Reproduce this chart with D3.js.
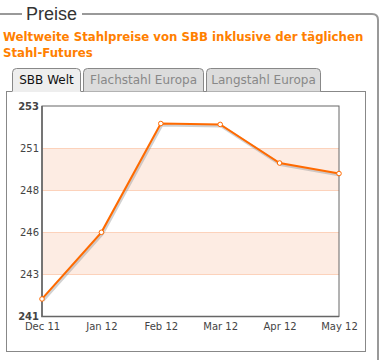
<!DOCTYPE html>
<html><head><meta charset="utf-8">
<script src="https://cdnjs.cloudflare.com/ajax/libs/d3/7.8.5/d3.min.js"></script>
<style>body{margin:0;background:#fff}svg{display:block}</style>
</head><body>
<script>
const months = ["Dec 11","Jan 12","Feb 12","Mar 12","Apr 12","May 12"];
const values = [242.0, 245.8, 252.0, 251.95, 249.75, 249.15];
const yTickValues = [241, 243.4, 245.8, 248.2, 250.6, 253];
const yBands = [[243.4, 245.8], [248.2, 250.6]];
const tabs = ["SBB Welt", "Flachstahl Europa", "Langstahl Europa"];
const titleLines = ["Weltweite Stahlpreise von SBB inklusive der täglichen", "Stahl-Futures"];
const legendText = "Preise";

const W = 388, H = 360;
const svg = d3.select("body").append("svg").attr("width", W).attr("height", H);

// fieldset border
const legendX0 = 22, legendX1 = 82, fy = 14, fr = 378;
svg.append("path")
  .attr("d", `M-2,${fy} L${legendX0},${fy} M${legendX1},${fy} L${fr-6},${fy} Q${fr},${fy} ${fr},${fy+6} L${fr},${H+5}`)
  .attr("fill","none").attr("stroke","#999").attr("stroke-width",2);
svg.append("text").attr("x",26).attr("y",19.5).text(legendText)
  .attr("font-family","'Liberation Sans', Arial, sans-serif").attr("font-size",18).attr("fill","#333");

// title
svg.selectAll("text.title").data(titleLines).join("text").attr("class","title")
  .attr("x",3).attr("y",(d,i)=>40.5+i*16.5).text(d=>d)
  .attr("font-family","'DejaVu Sans', Verdana, sans-serif").attr("font-weight","bold")
  .attr("font-size",11.75).attr("fill","#ff8000");

// chart box
svg.append("rect").attr("x",6.5).attr("y",91.5).attr("width",359).attr("height",260)
  .attr("fill","#fff").attr("stroke","#888");

// tabs
const tabGeom = [[12,81],[83,204],[206,321]];
tabs.forEach((t,i)=>{
  const [a,b] = tabGeom[i], top = 68.5, bot = i===0 ? 92 : 91.5, r = 4;
  svg.append("path")
    .attr("d",`M${a+0.5},${bot} L${a+0.5},${top+r} Q${a+0.5},${top} ${a+0.5+r},${top} L${b-0.5-r},${top} Q${b-0.5},${top} ${b-0.5},${top+r} L${b-0.5},${bot}`)
    .attr("fill", i===0 ? "#eeeeee" : "#dcdcdc").attr("stroke","#888");
  svg.append("text").attr("x",(a+b)/2).attr("y",83.5).attr("text-anchor","middle").text(t)
    .attr("font-family","'DejaVu Sans', Verdana, sans-serif").attr("font-size",12)
    .attr("fill", i===0 ? "#111" : "#888");
});
svg.append("line").attr("x1",12.5).attr("x2",80.5).attr("y1",91.5).attr("y2",91.5).attr("stroke","#eeeeee");

// plot
const x = d3.scalePoint().domain(months).range([42, 339]);
const y = d3.scaleLinear().domain([241, 253]).range([316.5, 106]);

svg.selectAll("rect.band").data(yBands).join("rect").attr("class","band")
  .attr("x",42).attr("width",297).attr("y",d=>y(d[1])).attr("height",d=>y(d[0])-y(d[1]))
  .attr("fill","#fdece3");
svg.selectAll("line.grid").data(yTickValues.slice(1,-1)).join("line").attr("class","grid")
  .attr("x1",42).attr("x2",339).attr("y1",d=>Math.round(y(d))+0.5).attr("y2",d=>Math.round(y(d))+0.5)
  .attr("stroke","#fcd2bb");

// frame
svg.append("rect").attr("x",42).attr("y",106).attr("width",297).attr("height",210.5)
  .attr("fill","none").attr("stroke","#666").attr("stroke-width",1);
svg.append("path").attr("d","M42,106 L42,316.5 L339,316.5").attr("fill","none").attr("stroke","#666").attr("stroke-width",1.6);

// axes
const fmt = d3.format(".0f");
const yAxis = d3.axisLeft(y).tickValues(yTickValues).tickFormat(fmt).tickSize(0).tickPadding(3);
const gy = svg.append("g").attr("transform","translate(42,0)").call(yAxis);
gy.select(".domain").remove();
gy.selectAll("text").attr("font-family","'DejaVu Sans', Verdana, sans-serif").attr("font-size",10).attr("fill","#444")
  .attr("font-weight",(d,i)=> (i===0||i===yTickValues.length-1) ? "bold" : "normal");
const xAxis = d3.axisBottom(x).tickSize(0).tickPadding(6);
const gx = svg.append("g").attr("transform","translate(0,316.5)").call(xAxis);
gx.select(".domain").remove();
gx.selectAll("text").attr("font-family","'DejaVu Sans', Verdana, sans-serif").attr("font-size",10).attr("fill","#444");

// line shadow + line
const line = d3.line().x((d,i)=>x(months[i])).y(d=>y(d));
svg.append("path").datum(values).attr("d",line).attr("transform","translate(1,1.5)")
  .attr("fill","none").attr("stroke","#999").attr("stroke-opacity",0.45).attr("stroke-width",3);
svg.append("path").datum(values).attr("d",line)
  .attr("fill","none").attr("stroke","#ff6a00").attr("stroke-width",2);
svg.selectAll("circle.pt").data(values).join("circle").attr("class","pt")
  .attr("cx",(d,i)=>x(months[i])).attr("cy",d=>y(d)).attr("r",2.3)
  .attr("fill","#fff").attr("stroke","#ff6a00").attr("stroke-width",1);
</script>
</body></html>
